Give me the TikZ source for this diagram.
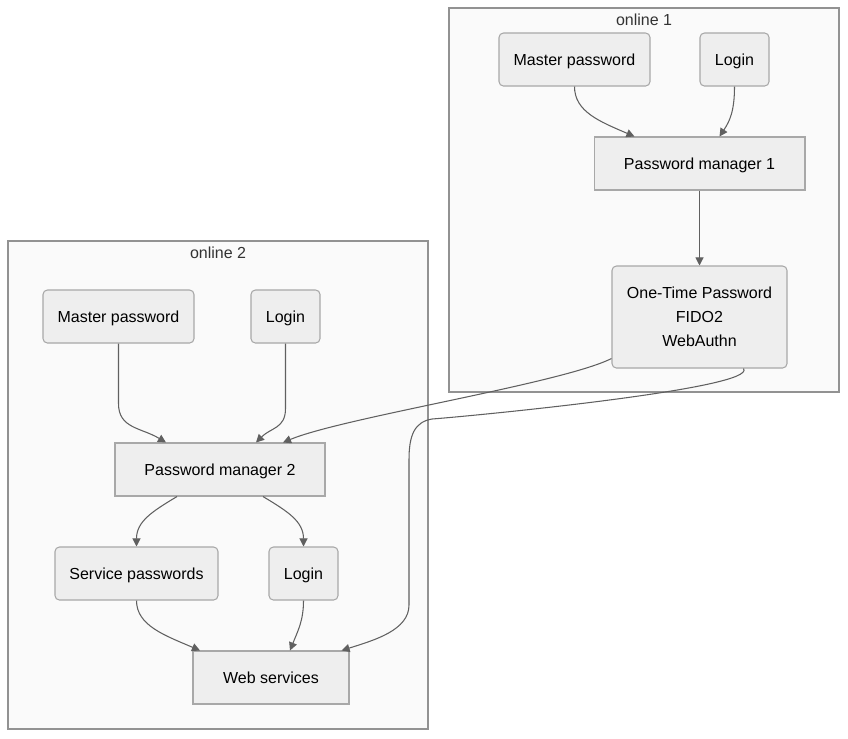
\documentclass[tikz,border=0pt]{standalone}
\usepackage{fontspec}
\setmainfont{Liberation Sans}
\usetikzlibrary{calc,arrows.meta}

\definecolor{boxfill}{HTML}{EEEEEE}
\definecolor{boxline}{HTML}{A8A8A8}
\definecolor{groupfill}{HTML}{FAFAFA}
\definecolor{groupline}{HTML}{929292}
\definecolor{edgeline}{HTML}{606060}

\tikzset{
  item/.style={draw=boxline, fill=boxfill, line width=0.6pt, rounded corners=2.5pt,
    minimum height=1.06cm, inner sep=0pt, font=\fontsize{9.1}{11.3}\selectfont, align=center},
  oneline/.style={item, text height=8.8pt, text depth=1.9pt},
  plainitem/.style={oneline, rounded corners=0pt},
  group/.style={draw=groupline, fill=groupfill, line width=0.6pt},
  grouplabel/.style={text=black!80, font=\fontsize{9.1}{11}\selectfont},
  link/.style={draw=edgeline, line width=0.6pt, -{Triangle[length=4.6pt,width=4.6pt]}}
}

\begin{document}
\begin{tikzpicture}[x=0.02cm, y=-0.02cm]

    % Fix the page size
    \useasboundingbox (0,0) rectangle (848,738);

    % Draw the two groups
    \draw[group] (449,8) rectangle (839,392);
    \node[grouplabel] (labelA) at (644,19.5) {online 1};

    \draw[group] (8,241) rectangle (428,729);
    \node[grouplabel] (labelB) at (218,252.5) {online 2};

    % Nodes of online 1
    \node[oneline, minimum width=3.02cm] (mpA) at (574.5,59.5) {Master password};
    \node[oneline, minimum width=1.38cm] (loginA) at (734.5,59.5) {Login};
    \node[plainitem, minimum width=4.22cm] (pmA) at (699.5,163.5) {Password manager 1};
    \node[item, minimum width=3.5cm, minimum height=2.04cm] (otp) at (699.5,317)
      {One-Time Password\\[2.4pt]FIDO2\\[2.4pt]WebAuthn};

    % Nodes of online 2
    \node[oneline, minimum width=3.02cm] (mpB) at (118.5,316.5) {Master password};
    \node[oneline, minimum width=1.38cm] (loginB) at (285.5,316.5) {Login};
    \node[plainitem, minimum width=4.2cm] (pmB) at (220,469.5) {Password manager 2};
    \node[oneline, minimum width=3.26cm] (svc) at (136.5,573.5) {Service passwords};
    \node[oneline, minimum width=1.38cm] (loginC) at (303.5,573.5) {Login};
    \node[plainitem, minimum width=3.12cm] (web) at (271,677.5) {Web services};

    % Edges in online 1
    \draw[link] (mpA.south) .. controls +(0,25) and +(-35,-15) .. ($(pmA.north)+(-65,0)$);
    \draw[link] (loginA.south) .. controls +(0,25) and +(10,-15) .. ($(pmA.north)+(20,0)$);
    \draw[link] (pmA.south) -- (otp.north);

    % Edges leaving online 1
    \draw[link] ($(otp.south west)+(0,-10)$) .. controls +(-50,25) and +(60,-25) .. ($(pmB.north)+(63,0)$);
    \draw[link] ($(otp.south)+(44,0)$) .. controls +(15,20) and +(40,-3) .. (432,419)
      .. controls (414,422) and (409,436) .. (409,460) -- (409,605)
      .. controls (409,630) and (375,640) .. ($(web.north east)+(-8,0)$);

    % Edges in online 2
    \draw[link] (mpB.south) -- +(0,60) .. controls +(0,25) and +(-25,-15) .. ($(pmB.north)+(-54,0)$);
    \draw[link] (loginB.south) -- +(0,65) .. controls +(0,20) and +(15,-15) .. ($(pmB.north)+(36,0)$);
    \draw[link] ($(pmB.south)+(-43,0)$) .. controls +(-25,15) and +(0,-25) .. (svc.north);
    \draw[link] ($(pmB.south)+(43,0)$) .. controls +(25,15) and +(0,-25) .. (loginC.north);
    \draw[link] (svc.south) .. controls +(0,25) and +(-35,-15) .. ($(web.north)+(-71,0)$);
    \draw[link] (loginC.south) .. controls +(0,20) and +(8,-20) .. ($(web.north)+(19,0)$);

\end{tikzpicture}
\end{document}
